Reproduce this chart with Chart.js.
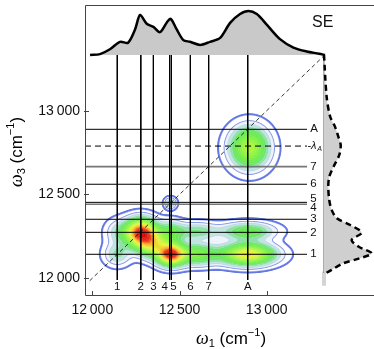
<!DOCTYPE html>
<html>
<head>
<meta charset="utf-8">
<script src="https://cdn.jsdelivr.net/npm/chart.js@4.4.1/dist/chart.umd.min.js"></script>
<style>
  html, body { margin: 0; padding: 0; background: #fff; }
  #wrap { width: 374px; height: 349px; }
</style>
</head>
<body>
<div id="wrap"><canvas id="myChart"></canvas></div>
<script>
// top marginal spectrum (SE), omega1 in cm-1 and normalised intensity
const seW1 = [11987, 12044, 12101, 12159, 12205, 12245, 12274, 12312, 12350, 12388, 12427, 12450, 12484, 12522, 12560, 12618, 12675, 12733, 12790, 12847, 12895, 12943, 13000, 13076, 13153, 13229, 13300, 13334]
const seInt = [0, 0.02, 0.13, 0.30, 0.28, 0.58, 0.91, 0.71, 0.64, 0.52, 0.74, 0.82, 0.58, 0.34, 0.30, 0.23, 0.30, 0.39, 0.73, 0.93, 1.0, 0.93, 0.69, 0.36, 0.17, 0.08, 0.03, 0]

// right marginal spectrum (dashed), omega3 in cm-1 and intensity
const prW3 = [13334, 13084, 12964, 12905, 12845, 12795, 12736, 12666, 12606, 12547, 12467, 12408, 12358, 12318, 12272, 12229, 12189, 12149, 12119, 12089, 12050, 12032]
const prInt = [0, 0.055, 0.13, 0.23, 0.30, 0.35, 0.32, 0.20, 0.11, 0.09, 0.11, 0.16, 0.27, 0.55, 0.79, 0.58, 0.72, 1.0, 0.75, 0.40, 0.16, 0.05]

// 2D map peaks: position, amplitude, widths (cm-1)
const peakW1 = [12143, 12278, 12450, 12340, 12450, 12150, 12600, 12891, 12600, 12891, 12448, 12900]
const peakW3 = [12143, 12274, 12143, 12205, 12274, 12274, 12143, 12143, 12280, 12280, 12448, 12780]
const peakAmp = [0.15, 0.85, 0.85, 0.45, 0.22, 0.12, 0.32, 0.60, 0.18, 0.26, 0.18, 0.45]
const peakSig1 = [50, 58, 52, 60, 50, 50, 80, 100, 80, 100, 22, 72]
const peakSig3 = [45, 52, 42, 50, 45, 50, 42, 42, 35, 35, 22, 80]

// guide lines
const lineLabels = ['1', '2', '3', '4', '5', '6', '7', 'A']
const lineW1 = [12143, 12278, 12350, 12443, 12453, 12562, 12667, 12891]
const lineW3 = [12143, 12274, 12352, 12442, 12453, 12561, 12666, 12889]
const lambdaA = 12789
const tickValues = [12000, 12500, 13000]

const FONT = "'Liberation Sans', Arial, sans-serif"
const fmt = (v) => String(v).replace(/(\d{2})(\d{3})$/, '$1\u2009$2')

const field = (w1, w3) => {
    let s = 0
    for (let k = 0; k < peakW1.length; k++) {
        const a = (w1 - peakW1[k]) / peakSig1[k]
        const b = (w3 - peakW3[k]) / peakSig3[k]
        s += peakAmp[k] * Math.exp(-0.5 * (a * a + b * b))
    }
    return s
}

const stops = [
    [0.00, [90, 110, 230]], [0.07, [130, 150, 225]], [0.12, [120, 200, 190]],
    [0.18, [110, 225, 120]], [0.26, [100, 235, 70]], [0.40, [150, 245, 60]],
    [0.55, [230, 245, 50]], [0.70, [250, 170, 30]], [0.82, [235, 40, 15]], [1.0, [200, 0, 0]]
]
const cmap = (v) => {
    if (v <= stops[0][0]) return stops[0][1]
    for (let i = 1; i < stops.length; i++) {
        if (v <= stops[i][0]) {
            const t = (v - stops[i - 1][0]) / (stops[i][0] - stops[i - 1][0])
            return stops[i - 1][1].map((c, k) => c + (stops[i][1][k] - c) * t)
        }
    }
    return stops[stops.length - 1][1]
}
const clamp = (v, a, b) => Math.max(a, Math.min(b, v))

const contourPlugin = {
    id: 'contour',
    beforeDatasetsDraw(chart) {
        const { ctx, scales: { x, y } } = chart
        const x0 = Math.floor(x.getPixelForValue(11990)), x1 = Math.ceil(x.getPixelForValue(13330))
        const y0 = Math.floor(y.getPixelForValue(13150)), y1 = Math.ceil(y.getPixelForValue(11960))
        const W = x1 - x0, H = y1 - y0
        const f = new Float32Array(W * H)
        for (let j = 0; j < H; j++) {
            const w3 = y.getValueForPixel(y0 + j + 0.5)
            for (let i = 0; i < W; i++) {
                f[j * W + i] = field(x.getValueForPixel(x0 + i + 0.5), w3)
            }
        }
        const base = 0.02, step = 0.04
        const off = document.createElement('canvas')
        off.width = W; off.height = H
        const octx = off.getContext('2d')
        const img = octx.createImageData(W, H)
        for (let j = 1; j < H - 1; j++) {
            for (let i = 1; i < W - 1; i++) {
                const idx = j * W + i
                const v = f[idx]
                const gx = (f[idx + 1] - f[idx - 1]) / 2
                const gy = (f[idx + W] - f[idx - W]) / 2
                const g = Math.sqrt(gx * gx + gy * gy) + 1e-9
                const n = (v - base) / step
                const k = Math.max(0, Math.round(n))
                const dpx = Math.abs(n - k) * step / g
                const hw = k === 0 ? 1.0 : 0.45
                const cov = clamp(hw + 0.5 - dpx, 0, 1)
                const lvl = base + k * step
                let r = 255, gg = 255, b = 255, a = 0
                if (n >= 0) {
                    const li = Math.floor(n)
                    const fa = clamp((li - 0.6) / 3, 0, 1)
                    const fc = cmap(base + (li + 0.5) * step)
                    r = 255 + (fc[0] - 255) * fa
                    gg = 255 + (fc[1] - 255) * fa
                    b = 255 + (fc[2] - 255) * fa
                    a = 255
                    const lc = cmap(lvl)
                    const light = k < 2 ? 0 : 0.45
                    const ls = cov * (1 - 0.7 * fa)
                    const lr = lc[0] + (255 - lc[0]) * light, lg = lc[1] + (255 - lc[1]) * light, lb = lc[2] + (255 - lc[2]) * light
                    r += (lr - r) * ls; gg += (lg - gg) * ls; b += (lb - b) * ls
                } else if (cov > 0) {
                    const lc = cmap(base)
                    r = lc[0]; gg = lc[1]; b = lc[2]; a = 255 * cov
                }
                img.data[idx * 4] = r
                img.data[idx * 4 + 1] = gg
                img.data[idx * 4 + 2] = b
                img.data[idx * 4 + 3] = a
            }
        }
        octx.putImageData(img, 0, 0)
        ctx.save()
        ctx.drawImage(off, x0, y0)
        ctx.restore()
    }
}

const richText = (ctx, parts, x, y) => {
    let w = 0
    parts.forEach(p => { ctx.font = p.font; w += ctx.measureText(p.t).width })
    let cx = x - w / 2
    parts.forEach(p => {
        ctx.font = p.font
        ctx.fillText(p.t, cx, y + (p.dy || 0))
        cx += ctx.measureText(p.t).width
    })
}

const labelsPlugin = {
    id: 'labels',
    afterDatasetsDraw(chart) {
        const { ctx, chartArea: ca, scales: { x, y } } = chart
        ctx.save()
        ctx.fillStyle = '#111'
        ctx.textBaseline = 'middle'
        // labels under vertical lines
        ctx.font = '11.5px ' + FONT
        ctx.textAlign = 'center'
        lineW1.forEach((w, i) => {
            let px = x.getPixelForValue(w)
            if (lineLabels[i] === '4') px -= 5
            if (lineLabels[i] === '5') px += 2
            ctx.fillText(lineLabels[i], px, y.getPixelForValue(11946))
        })
        // labels right of horizontal lines
        ctx.textAlign = 'left'
        const lx = x.getPixelForValue(13250)
        lineW3.forEach((w, i) => {
            let py = y.getPixelForValue(w)
            if (lineLabels[i] === '5') py -= 4
            if (lineLabels[i] === '4') py += 4
            ctx.fillText(lineLabels[i], lx, py)
        })
        const ly = y.getPixelForValue(lambdaA)
        ctx.fillText('-', x.getPixelForValue(13234), ly)
        ctx.font = 'italic 11px ' + FONT
        ctx.fillText('\u03bb', x.getPixelForValue(13254), ly)
        ctx.font = 'italic 7px ' + FONT
        ctx.fillText('A', x.getPixelForValue(13290), ly + 3)
        // SE label
        ctx.font = '16px ' + FONT
        ctx.fillText('SE', 312, 23)
        // axis titles
        ctx.fillStyle = '#000'
        const big = '17px ' + FONT, small = '11px ' + FONT
        const om = "italic 18px 'Liberation Serif', serif"
        richText(ctx, [
            { t: '\u03c9', font: om }, { t: '1', font: small, dy: 5 },
            { t: ' (cm', font: big }, { t: '\u22121', font: small, dy: -6 }, { t: ')', font: big }
        ], 231, 339)
        ctx.save()
        ctx.translate(17, 152)
        ctx.rotate(-Math.PI / 2)
        richText(ctx, [
            { t: '\u03c9', font: om }, { t: '3', font: small, dy: 5 },
            { t: ' (cm', font: big }, { t: '\u22121', font: small, dy: -6 }, { t: ')', font: big }
        ], 0, 0)
        ctx.restore()
        // frame and inward ticks
        ctx.strokeStyle = '#444'
        ctx.lineWidth = 1
        ctx.beginPath()
        ctx.moveTo(chart.width, ca.top + 0.5)
        ctx.lineTo(ca.left + 0.5, ca.top + 0.5)
        ctx.lineTo(ca.left + 0.5, ca.bottom + 0.5)
        ctx.lineTo(chart.width, ca.bottom + 0.5)
        tickValues.forEach(v => {
            const px = Math.round(x.getPixelForValue(v)) + 0.5
            ctx.moveTo(px, ca.bottom)
            ctx.lineTo(px, ca.bottom - 4)
            const py = Math.round(y.getPixelForValue(v)) + 0.5
            ctx.moveTo(ca.left - 1, py)
            ctx.lineTo(ca.left + 4, py)
        })
        ctx.stroke()
        ctx.restore()
    }
}

const seg = (pts, color, width, dash, xID) => ({
    type: 'line', data: pts, borderColor: color, borderWidth: width, borderDash: dash || [],
    pointRadius: 0, fill: false, tension: 0, xAxisID: xID || 'x', yAxisID: 'y'
})

const datasets = [
    {
        type: 'line', label: 'SE',
        data: seW1.map((v, i) => ({ x: v, y: seInt[i] })),
        xAxisID: 'x', yAxisID: 'yTop',
        borderColor: '#000', borderWidth: 2.5, backgroundColor: '#c9c9c9',
        fill: 'origin', pointRadius: 0, tension: 0.3
    },
    {
        type: 'line', label: 'proj',
        indexAxis: 'y',
        data: prW3.map((v, i) => ({ x: prInt[i], y: v })),
        xAxisID: 'xR', yAxisID: 'y',
        borderColor: '#000', borderWidth: 2.5, borderDash: [6, 4], backgroundColor: '#cfcfcf',
        fill: 'origin', pointRadius: 0, tension: 0.3
    },
    seg([{ x: 0, y: 13334 }, { x: 0, y: 12032 }], '#777', 1.2, [], 'xR'),
    seg([{ x: 0, y: 12040 }, { x: 0, y: 11955 }], '#d4d4d4', 4, [], 'xR'),
    seg([{ x: 11985, y: 11985 }, { x: 13334, y: 13334 }], '#000', 0.8, [4, 3]),
    seg([{ x: 11958, y: lambdaA }, { x: 13231, y: lambdaA }], '#000', 1, [6, 4])
]
lineW1.forEach(w => datasets.push(seg([{ x: w, y: 13334 }, { x: w, y: 11990 }], '#000', 1)))
lineW3.forEach((w, i) => {
    const gray = lineLabels[i] === '7' || lineLabels[i] === '4'
    datasets.push(seg([{ x: 11958, y: w }, { x: 13231, y: w }], gray ? '#777' : '#000', gray ? 1.6 : 1))
})

const noPad = (s) => { s.paddingTop = 0; s.paddingBottom = 0; s.paddingLeft = 0; s.paddingRight = 0 }

new Chart('myChart', {
    type: 'scatter',
    data: { datasets },
    options: {
        responsive: true,
        maintainAspectRatio: false,
        animation: false,
        devicePixelRatio: 1,
        layout: { padding: { top: 5, right: 0, left: 0, bottom: 0 } },
        plugins: { legend: { display: false }, tooltip: { enabled: false } },
        scales: {
            x: {
                type: 'linear', min: 11958, max: 13615,
                afterBuildTicks: (s) => { s.ticks = tickValues.map(v => ({ value: v })) },
                afterFit: (s) => { s.height = 54; noPad(s) },
                grid: { display: false, drawTicks: false }, border: { display: false },
                ticks: { font: { family: FONT, size: 14 }, color: '#111', padding: 7, maxRotation: 0, autoSkip: false, callback: (v) => fmt(v) }
            },
            y: {
                type: 'linear', min: 11900, max: 13631,
                afterBuildTicks: (s) => { s.ticks = tickValues.map(v => ({ value: v })) },
                afterFit: (s) => { s.width = 85; noPad(s) },
                grid: { display: false, drawTicks: false }, border: { display: false },
                ticks: { font: { family: FONT, size: 14 }, color: '#111', padding: 5, autoSkip: false, callback: (v) => fmt(v) }
            },
            yTop: { type: 'linear', display: false, min: -5.45, max: 1.136 },
            xR: { type: 'linear', display: false, min: -5.01, max: 1.048 }
        }
    },
    plugins: [contourPlugin, labelsPlugin]
})
</script>
</body>
</html>
